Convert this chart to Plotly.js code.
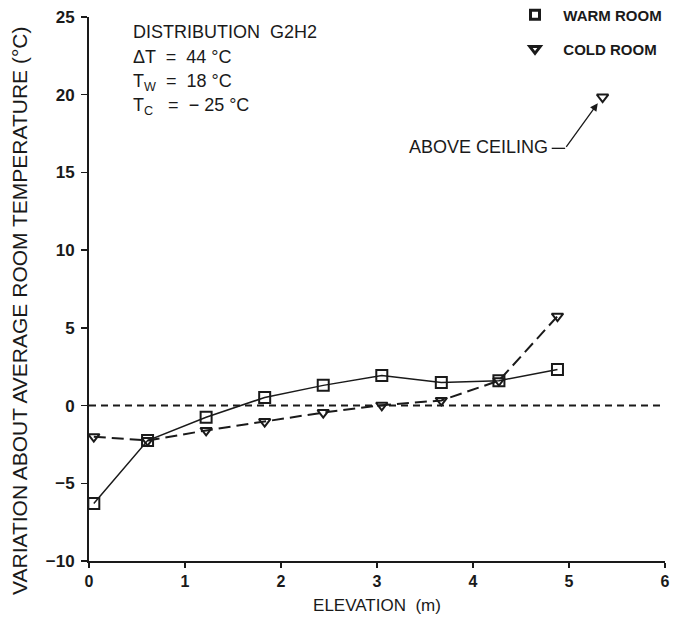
<!DOCTYPE html>
<html>
<head>
<meta charset="utf-8">
<script src="https://cdn.plot.ly/plotly-3.0.1.min.js"></script>
<style>html,body{margin:0;padding:0;background:#fff;}#chart{width:680px;height:625px;}</style>
</head>
<body>
<div id="chart"></div>
<script>
// Data
const elevWarm = [0.05, 0.61, 1.22, 1.83, 2.44, 3.05, 3.67, 4.27, 4.88];
const tempWarm = [-6.3, -2.25, -0.75, 0.52, 1.3, 1.93, 1.48, 1.6, 2.32];
const elevCold = [0.05, 0.61, 1.22, 1.83, 2.44, 3.05, 3.67, 4.27, 4.88];
const tempCold = [-2.0, -2.25, -1.6, -1.03, -0.45, 0.02, 0.33, 1.6, 5.75];
const elevAboveCeiling = [5.35];
const tempAboveCeiling = [19.85];
const refLineX = [0, 6];
const refLineY = [0, 0];
const seriesNames = ["WARM ROOM", "COLD ROOM"];
const infoLines = ["DISTRIBUTION  G2H2", "ΔT  =  44 °C", "T<sub>W</sub>  =  18 °C", "T<sub>C</sub>   =  − 25 °C"];
const calloutText = "ABOVE CEILING";
const yTitle = "VARIATION ABOUT AVERAGE ROOM TEMPERATURE (°C)";
const xTitle = "ELEVATION  (m)";

const FONT = "'Liberation Sans', Arial, sans-serif";
const INK = "#1a1a1a";

const traces = [
  {x: refLineX, y: refLineY, mode: "lines", line: {color: INK, width: 2, dash: "7px,5px"}, showlegend: false, hoverinfo: "skip"},
  {x: elevWarm, y: tempWarm, mode: "lines+markers", name: seriesNames[0], showlegend: false,
   line: {color: INK, width: 1.5},
   marker: {symbol: "square-open", size: 11, color: INK, line: {width: 2, color: INK}}},
  {x: elevCold, y: tempCold, mode: "lines+markers", name: seriesNames[1], showlegend: false,
   line: {color: INK, width: 2, dash: "12px,6px"},
   marker: {symbol: "triangle-down-open", size: 10, color: INK, line: {width: 2, color: INK}}},
  {x: elevAboveCeiling, y: tempAboveCeiling, mode: "markers", showlegend: false,
   marker: {symbol: "triangle-down-open", size: 10, color: INK, line: {width: 2, color: INK}}},
  {x: [null], y: [null], mode: "markers", name: "<b>  " + seriesNames[0] + "</b>", legend: "legend",
   marker: {symbol: "square-open", size: 9, color: INK, line: {width: 3, color: INK}}},
  {x: [null], y: [null], mode: "markers", name: "<b>  " + seriesNames[1] + "</b>", legend: "legend2",
   marker: {symbol: "triangle-down-open", size: 9, color: INK, line: {width: 3, color: INK}}}
];

const infoY = [0.972, 0.926, 0.880, 0.835];
const annotations = infoLines.map((t, i) => ({
  xref: "paper", yref: "paper", x: 0.073, y: infoY[i], xanchor: "left", yanchor: "middle",
  text: t, showarrow: false, font: {family: FONT, size: 18, color: INK}
}));
annotations.push({
  xref: "x", yref: "y", x: 4.80, y: 16.65, xanchor: "right", yanchor: "middle",
  text: calloutText, showarrow: false, font: {family: FONT, size: 18, color: INK}
});
annotations.push({
  xref: "x", yref: "y", x: 5.30, y: 19.45, axref: "x", ayref: "y", ax: 4.96, ay: 16.55,
  text: "", showarrow: true, arrowhead: 2, arrowsize: 1.2, arrowwidth: 1.3, arrowcolor: INK, standoff: 0
});
annotations.push({
  xref: "paper", yref: "paper", x: -0.1198, y: 0.4596, xanchor: "center", yanchor: "middle",
  textangle: -90, text: yTitle, showarrow: false, font: {family: FONT, size: 21, color: INK}
});

const legendBase = {xanchor: "left", yanchor: "middle", bgcolor: "rgba(0,0,0,0)",
  font: {family: FONT, size: 15, color: INK}, itemwidth: 30};

const layout = {
  width: 680, height: 625,
  margin: {l: 89, r: 15, t: 17, b: 64, autoexpand: false},
  paper_bgcolor: "#fff", plot_bgcolor: "#fff",
  font: {family: FONT, color: INK},
  xaxis: {
    range: [0, 6], dtick: 1, tick0: 0, showgrid: false, zeroline: false,
    showline: true, linecolor: INK, linewidth: 2, ticks: "outside", ticklen: 5, tickwidth: 1.5, tickcolor: INK,
    tickfont: {family: FONT, size: 16, color: INK, weight: "bold"},
    title: {text: xTitle, font: {family: FONT, size: 17, color: INK}, standoff: 10}
  },
  yaxis: {
    range: [-10, 25], dtick: 5, showgrid: false, zeroline: false,
    showline: true, linecolor: INK, linewidth: 2, ticks: "outside", ticklen: 6, tickwidth: 1.5, tickcolor: INK,
    ticklabelstandoff: 3,
    tickfont: {family: FONT, size: 17, color: INK, weight: "bold"},
    tickformat: "d"
  },
  legend: Object.assign({x: 0.7396, y: 1.0037}, legendBase),
  legend2: Object.assign({x: 0.7396, y: 0.941}, legendBase),
  annotations: annotations,
  shapes: [
    {type: "line", xref: "x", yref: "y", x0: 4.82, y0: 16.55, x1: 4.96, y1: 16.55, line: {color: INK, width: 1.3}}
  ]
};

Plotly.newPlot("chart", traces, layout, {displayModeBar: false, staticPlot: true});
</script>
</body>
</html>
